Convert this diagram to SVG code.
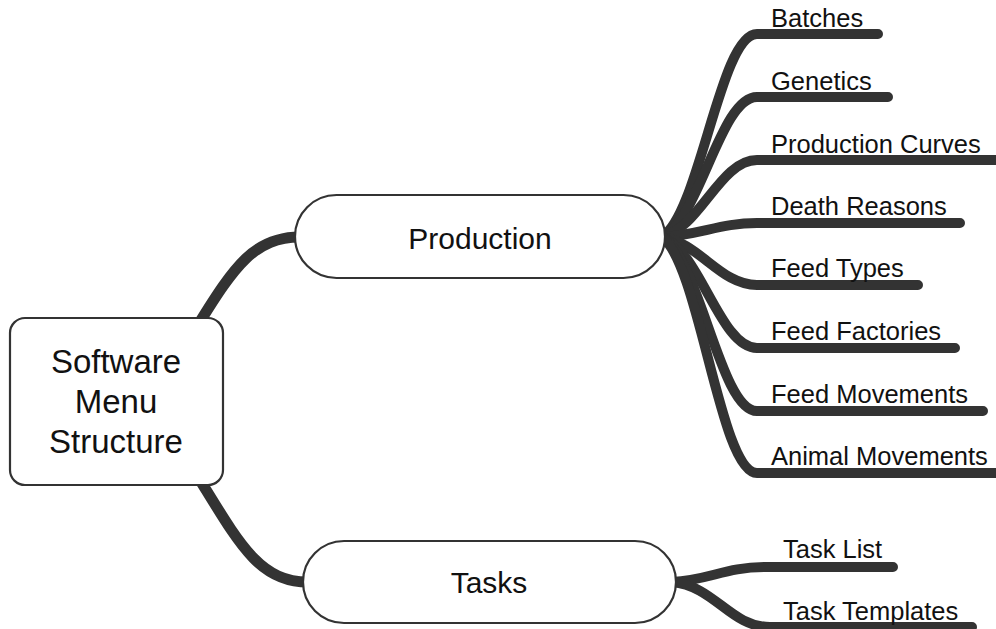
<svg xmlns="http://www.w3.org/2000/svg" width="996" height="629" viewBox="0 0 996 629">
  <style>
    .branch { fill: none; stroke: #333333; stroke-width: 10; stroke-linecap: round; stroke-linejoin: round; }
    .trunk { fill: none; stroke: #333333; stroke-width: 11; stroke-linecap: round; }
    .node { fill: #ffffff; stroke: #333333; stroke-width: 2.2; }
    text { font-family: "Liberation Sans", Arial, sans-serif; fill: #111111; }
    .root-label { font-size: 33px; text-anchor: middle; }
    .mid-label { font-size: 30px; text-anchor: middle; }
    .leaf-label { font-size: 25.5px; }
  </style>

  <!-- connectors: drawn first so the node boxes sit on top of them -->
  <g id="connectors">
    <!-- root to main topics -->
    <path class="trunk" d="M 198 325 C 235 265, 255 237, 300 237"/>
    <path class="trunk" d="M 200 480 C 240 545, 260 582, 308 582"/>
    <!-- Production children -->
    <path class="branch" d="M 662 237 C 700 213, 720 34, 757 34 L 878 34"/>
    <path class="branch" d="M 662 237 C 700 220, 720 97, 757 97 L 888 97"/>
    <path class="branch" d="M 662 237 C 700 228, 720 160, 757 160 L 1005 160"/>
    <path class="branch" d="M 662 237 C 700 235, 720 223, 757 223 L 960 223"/>
    <path class="branch" d="M 662 237 C 700 243, 720 285, 757 285 L 918 285"/>
    <path class="branch" d="M 662 237 C 700 250, 720 348, 757 348 L 955 348"/>
    <path class="branch" d="M 662 237 C 700 258, 720 411, 757 411 L 983 411"/>
    <path class="branch" d="M 662 237 C 700 265, 720 473, 757 473 L 1005 473"/>
    <!-- Tasks children -->
    <path class="branch" d="M 672 582 C 710 580, 725 567, 765 567 L 893 567"/>
    <path class="branch" d="M 672 582 C 715 586, 730 627, 770 627 L 972 627"/>
  </g>

  <g id="root">
    <rect class="node" x="10" y="318" width="213" height="167" rx="15" ry="15"/>
    <text class="root-label" x="116" y="373">Software</text>
    <text class="root-label" x="116" y="413">Menu</text>
    <text class="root-label" x="116" y="453">Structure</text>
  </g>

  <g id="production">
    <rect class="node" x="295" y="195" width="370" height="83" rx="41.5" ry="41.5"/>
    <text class="mid-label" x="480" y="249">Production</text>
  </g>

  <g id="tasks">
    <rect class="node" x="303" y="541" width="373" height="82" rx="41" ry="41"/>
    <text class="mid-label" x="489" y="593">Tasks</text>
  </g>

  <g id="batches"><text class="leaf-label" x="771" y="27">Batches</text></g>
  <g id="genetics"><text class="leaf-label" x="771" y="90">Genetics</text></g>
  <g id="production-curves"><text class="leaf-label" x="771" y="153">Production Curves</text></g>
  <g id="death-reasons"><text class="leaf-label" x="771" y="215">Death Reasons</text></g>
  <g id="feed-types"><text class="leaf-label" x="771" y="277">Feed Types</text></g>
  <g id="feed-factories"><text class="leaf-label" x="771" y="340">Feed Factories</text></g>
  <g id="feed-movements"><text class="leaf-label" x="771" y="403">Feed Movements</text></g>
  <g id="animal-movements"><text class="leaf-label" x="771" y="465">Animal Movements</text></g>

  <g id="task-list"><text class="leaf-label" x="783" y="558">Task List</text></g>
  <g id="task-templates"><text class="leaf-label" x="783" y="620">Task Templates</text></g>
</svg>
